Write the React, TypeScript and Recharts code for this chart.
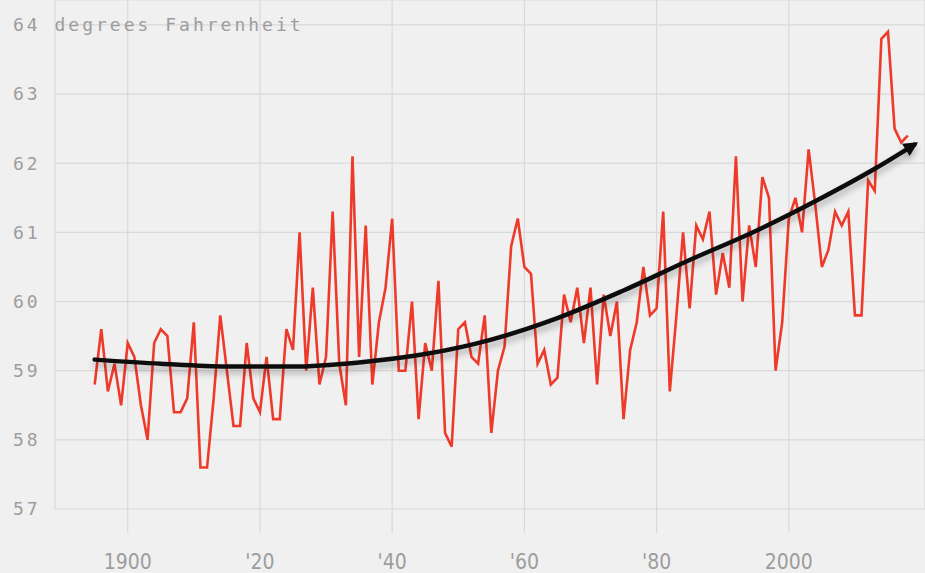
// Annual average temperature with trend arrow
import { LineChart, Line, XAxis, YAxis, CartesianGrid } from "recharts";

const YEARS = [
  1895, 1896, 1897, 1898, 1899, 1900, 1901, 1902, 1903, 1904,
  1905, 1906, 1907, 1908, 1909, 1910, 1911, 1912, 1913, 1914,
  1915, 1916, 1917, 1918, 1919, 1920, 1921, 1922, 1923, 1924,
  1925, 1926, 1927, 1928, 1929, 1930, 1931, 1932, 1933, 1934,
  1935, 1936, 1937, 1938, 1939, 1940, 1941, 1942, 1943, 1944,
  1945, 1946, 1947, 1948, 1949, 1950, 1951, 1952, 1953, 1954,
  1955, 1956, 1957, 1958, 1959, 1960, 1961, 1962, 1963, 1964,
  1965, 1966, 1967, 1968, 1969, 1970, 1971, 1972, 1973, 1974,
  1975, 1976, 1977, 1978, 1979, 1980, 1981, 1982, 1983, 1984,
  1985, 1986, 1987, 1988, 1989, 1990, 1991, 1992, 1993, 1994,
  1995, 1996, 1997, 1998, 1999, 2000, 2001, 2002, 2003, 2004,
  2005, 2006, 2007, 2008, 2009, 2010, 2011, 2012, 2013, 2014,
  2015, 2016, 2017, 2018,
];

const TEMPS = [
  58.8, 59.6, 58.7, 59.1, 58.5, 59.4, 59.2, 58.5, 58.0, 59.4,
  59.6, 59.5, 58.4, 58.4, 58.6, 59.7, 57.6, 57.6, 58.6, 59.8,
  59.0, 58.2, 58.2, 59.4, 58.6, 58.4, 59.2, 58.3, 58.3, 59.6,
  59.3, 61.0, 59.0, 60.2, 58.8, 59.2, 61.3, 59.1, 58.5, 62.1,
  59.2, 61.1, 58.8, 59.7, 60.2, 61.2, 59.0, 59.0, 60.0, 58.3,
  59.4, 59.0, 60.3, 58.1, 57.9, 59.6, 59.7, 59.2, 59.1, 59.8,
  58.1, 59.0, 59.35, 60.8, 61.2, 60.5, 60.4, 59.1, 59.3, 58.8,
  58.9, 60.1, 59.7, 60.2, 59.4, 60.2, 58.8, 60.1, 59.5, 60.0,
  58.3, 59.3, 59.7, 60.5, 59.8, 59.9, 61.3, 58.7, 59.8, 61.0,
  59.9, 61.1, 60.9, 61.3, 60.1, 60.7, 60.2, 62.1, 60.0, 61.1,
  60.5, 61.8, 61.5, 59.0, 59.7, 61.2, 61.5, 61.0, 62.2, 61.4,
  60.5, 60.75, 61.3, 61.1, 61.3, 59.8, 59.8, 61.75, 61.6, 63.8,
  63.9, 62.5, 62.3, 62.4,
];

const TREND_YEARS = [1895, 1905, 1915, 1925, 1935, 1945, 1955, 1965, 1975, 1985, 1995, 2005, 2013, 2019];
const TREND_VALUES = [59.16, 59.1, 59.06, 59.06, 59.12, 59.24, 59.45, 59.76, 60.16, 60.6, 61.02, 61.5, 61.92, 62.27];

const Y_TICKS = [57, 58, 59, 60, 61, 62, 63, 64];
const X_TICKS = [1900, 1920, 1940, 1960, 1980, 2000];
const X_LABELS = ["1900", "'20", "'40", "'60", "'80", "2000"];

const temps = YEARS.map((year, i) => ({ year, temp: TEMPS[i] }));
const trend = TREND_YEARS.map((year, i) => ({ year, trend: TREND_VALUES[i] }));

const GRID = "#d9d9d9";
const LABEL = "#9d9d9d";

const YTick = ({ y, payload }: any) => (
  <text
    x={13}
    y={y}
    dy="0.35em"
    fill={LABEL}
    fontFamily="'DejaVu Sans Mono', monospace"
    fontSize={18}
    letterSpacing={3}
    style={{ whiteSpace: "pre" }}
  >
    {payload.value === 64 ? "64 degrees Fahrenheit" : String(payload.value)}
  </text>
);

const XTick = ({ x, payload }: any) => (
  <text
    x={x}
    y={569}
    textAnchor="middle"
    fill={LABEL}
    fontFamily="'Liberation Sans Narrow', 'DejaVu Sans Condensed', sans-serif"
    fontSize={21}
  >
    {X_LABELS[X_TICKS.indexOf(payload.value)]}
  </text>
);

export default function App() {
  return (
    <div style={{ position: "absolute", left: 0, top: 0, width: 925, height: 573, background: "#f0f0f0" }}>
      <svg width={0} height={0} style={{ position: "absolute" }}>
        <defs>
          <marker id="trendArrow" viewBox="0 0 10 10" refX="7" refY="5" markerWidth="3.6" markerHeight="3.2" orient="auto">
            <path d="M0,0 L10,5 L0,10 z" fill="#111" />
          </marker>
          <filter id="trendShadow" x="-5%" y="-60%" width="110%" height="320%">
            <feDropShadow dx="0" dy="5" stdDeviation="3" floodColor="#000" floodOpacity="0.28" />
          </filter>
        </defs>
      </svg>
      <LineChart width={925} height={573} margin={{ top: 0, right: 0, bottom: 0, left: 0 }}>
        <CartesianGrid stroke={GRID} strokeWidth={1.2} />
        <XAxis
          dataKey="year"
          type="number"
          domain={[1889, 2020.6]}
          ticks={X_TICKS}
          allowDataOverflow
          axisLine={false}
          tickLine={{ stroke: GRID, strokeWidth: 1.2 }}
          tickSize={24}
          tick={<XTick />}
          height={64}
          interval={0}
        />
        <YAxis
          type="number"
          domain={[57, 64.36]}
          ticks={Y_TICKS}
          allowDataOverflow
          axisLine={false}
          tickLine={false}
          tick={<YTick />}
          width={55}
          interval={0}
        />
        <Line
          data={temps}
          dataKey="temp"
          type="linear"
          stroke="#ee3a2a"
          strokeWidth={2.6}
          dot={false}
          activeDot={false}
          isAnimationActive={false}
        />
        <Line
          data={trend}
          dataKey="trend"
          type="monotone"
          stroke="#111"
          strokeWidth={4.5}
          strokeLinecap="round"
          dot={false}
          activeDot={false}
          markerEnd="url(#trendArrow)"
          filter="url(#trendShadow)"
          isAnimationActive={false}
        />
      </LineChart>
    </div>
  );
}
